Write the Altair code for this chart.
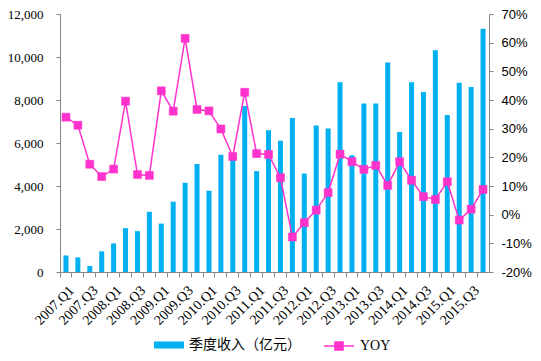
import altair as alt
import pandas as pd

quarters = [
    "2007.Q1", "2007.Q2", "2007.Q3", "2007.Q4",
    "2008.Q1", "2008.Q2", "2008.Q3", "2008.Q4",
    "2009.Q1", "2009.Q2", "2009.Q3", "2009.Q4",
    "2010.Q1", "2010.Q2", "2010.Q3", "2010.Q4",
    "2011.Q1", "2011.Q2", "2011.Q3", "2011.Q4",
    "2012.Q1", "2012.Q2", "2012.Q3", "2012.Q4",
    "2013.Q1", "2013.Q2", "2013.Q3", "2013.Q4",
    "2014.Q1", "2014.Q2", "2014.Q3", "2014.Q4",
    "2015.Q1", "2015.Q2", "2015.Q3", "2015.Q4",
]
revenue = [770, 680, 280, 960, 1330, 2040, 1900, 2800, 2250, 3270, 4150, 5020,
           3780, 5450, 5300, 7720, 4690, 6590, 6100, 7160, 4580, 6810, 6670, 8830,
           5430, 7840, 7840, 9740, 6510, 8830, 8370, 10310, 7300, 8800, 8600, 11310]
yoy = [34.0, 31.2, 17.6, 13.3, 15.9, 39.6, 14.0, 13.7, 43.2, 36.1, 61.5, 36.7,
       36.2, 29.9, 20.3, 42.7, 21.3, 21.0, 12.9, -7.8, -2.8, 1.6, 7.7, 21.1,
       18.5, 15.8, 17.2, 10.2, 18.5, 12.0, 6.3, 5.3, 11.5, -1.9, 1.9, 8.8]
left_ticks = [0, 2000, 4000, 6000, 8000, 10000, 12000]
right_ticks = [-20, -10, 0, 10, 20, 30, 40, 50, 60, 70]
bar_name = "季度收入（亿元）"
line_name = "YOY"

BLUE = "#00B0F0"
PINK = "#FF33CC"
GREY = "#868686"
SERIF = "Times New Roman, Liberation Serif, serif"

df = pd.DataFrame({"quarter": quarters, "revenue": revenue, "yoy": yoy})
df["bar_series"] = bar_name
df["line_series"] = line_name

x_enc = alt.X(
    "quarter:N",
    sort=quarters,
    scale=alt.Scale(paddingInner=0, paddingOuter=0),
    axis=alt.Axis(
        title=None,
        labelAngle=315,
        labelAlign="right",
        labelBaseline="middle",
        bandPosition=0,
        labelOffset=6,
        labelPadding=11,
        labelFont=SERIF,
        labelFontSize=14,
        labelExpr="test(/Q[13]$/, datum.value) ? datum.value : ''",
        tickSize=5,
    ),
)

bars = alt.Chart(df).mark_bar(width=alt.RelativeBandSize(0.42)).encode(
    x=x_enc,
    y=alt.Y(
        "revenue:Q",
        scale=alt.Scale(domain=[0, 12000], nice=False),
        axis=alt.Axis(
            title=None,
            orient="left",
            values=left_ticks,
            format=",.0f",
            labelFont=SERIF,
            labelFontSize=13,
            labelPadding=13,
            tickSize=4,
        ),
    ),
    fill=alt.Fill(
        "bar_series:N",
        scale=alt.Scale(domain=[bar_name], range=[BLUE]),
        legend=alt.Legend(
            title=None,
            orient="none",
            legendX=94,
            legendY=316,
            symbolType="M-1,-0.233H1V0.233H-1Z",
            symbolSize=900,
            symbolStrokeWidth=0,
            labelOffset=5,
            padding=0,
        ),
    ),
)

line = alt.Chart(df).mark_line(
    strokeWidth=1.5,
    point=alt.OverlayMarkDef(shape="square", size=64, filled=True, fill=PINK, stroke=PINK, strokeWidth=0.5, opacity=1),
).encode(
    x=x_enc,
    y=alt.Y(
        "yoy:Q",
        scale=alt.Scale(domain=[-20, 70], nice=False),
        axis=alt.Axis(
            title=None,
            orient="right",
            values=right_ticks,
            labelExpr="datum.value + '%'",
            labelFont="Liberation Sans",
            labelFontSize=13,
            labelPadding=8,
            tickSize=4,
        ),
    ),
    stroke=alt.Stroke(
        "line_series:N",
        scale=alt.Scale(domain=[line_name], range=[PINK]),
        legend=alt.Legend(
            title=None,
            orient="none",
            legendX=263,
            legendY=316,
            symbolType="M-1,0H1M-0.27,-0.27H0.27V0.27H-0.27Z",
            symbolSize=900,
            symbolFillColor=PINK,
            symbolStrokeColor=PINK,
            symbolStrokeWidth=1.5,
            labelOffset=5,
            padding=0,
        ),
    ),
)

chart = (
    alt.layer(bars, line)
    .resolve_scale(y="independent")
    .properties(
        width=429,
        height=258,
        autosize=alt.AutoSizeParams(type="none"),
        padding={"left": 52, "top": 6, "right": 44, "bottom": 80},
    )
    .configure_view(stroke=None)
    .configure_axis(
        grid=False,
        domainColor=GREY,
        tickColor=GREY,
        labelColor="#000000",
    )
    .configure_legend(
        labelFont="Times New Roman, Liberation Serif, Noto Sans CJK SC",
        labelFontSize=14,
        labelColor="#000000",
    )
)

chart.save("out.html", embed_options={"renderer": "svg", "actions": False})
